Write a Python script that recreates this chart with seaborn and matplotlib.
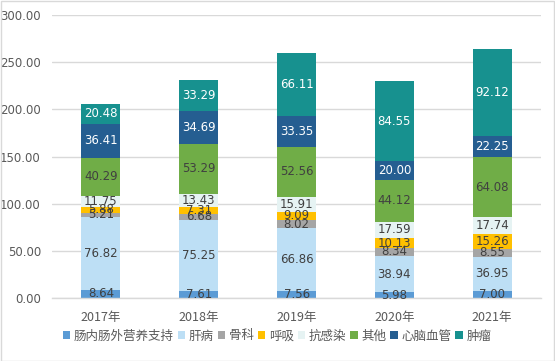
import matplotlib
matplotlib.use("Agg")
import matplotlib.pyplot as plt
import seaborn as sns
import numpy as np
import pandas as pd
from matplotlib.patches import Rectangle

years = ["2017年", "2018年", "2019年", "2020年", "2021年"]
series_names = ["肠内肠外营养支持", "肝病", "骨科", "呼吸", "抗感染", "其他", "心脑血管", "肿瘤"]
enteral = [8.64, 7.61, 7.56, 5.98, 7.00]
liver = [76.82, 75.25, 66.86, 38.94, 36.95]
ortho = [5.21, 6.68, 8.02, 8.34, 8.55]
resp = [5.88, 7.31, 9.09, 10.13, 15.26]
anti_inf = [11.75, 13.43, 15.91, 17.59, 17.74]
other = [40.29, 53.29, 52.56, 44.12, 64.08]
cardio = [36.41, 34.69, 33.35, 20.00, 22.25]
tumor = [20.48, 33.29, 66.11, 84.55, 92.12]
series_values = [enteral, liver, ortho, resp, anti_inf, other, cardio, tumor]
y_ticks = [0, 50, 100, 150, 200, 250, 300]

colors = ["#5B9BD5", "#BDDFF5", "#A5A5A5", "#FFC000", "#E6F3F3", "#70AD47", "#255E91", "#17918F"]
label_colors = ["#404040"] * 6 + ["white", "white"]

sns.set_theme(style="white")
plt.rcParams['font.family'] = ['Noto Sans CJK SC', 'DejaVu Sans']

fig = plt.figure(figsize=(5.55, 3.61), dpi=100)
ax = fig.add_axes([0.0937, 0.1745, 0.8813, 0.7835])

bottom = np.zeros(len(years))
for name, vals, col, lc in zip(series_names, series_values, colors, label_colors):
    df = pd.DataFrame({"year": years, "value": vals})
    sns.barplot(data=df, x="year", y="value", bottom=bottom, color=col, width=0.4,
                ax=ax, label=name, saturation=1, linewidth=0)
    cont = ax.containers[-1]
    ax.bar_label(cont, labels=[f"{v:.2f}" for v in vals], label_type="center",
                 fontsize=8.5, color=lc, family=['DejaVu Sans'])
    bottom = bottom + np.array(vals)

ax.set_ylim(0, 300)
ax.set_xlim(-0.5, 4.5)
ax.set_yticks(y_ticks)
ax.set_yticklabels([f"{v:.2f}" for v in y_ticks], fontsize=8.5, color="#595959", family=['DejaVu Sans'])
ax.tick_params(axis="x", labelsize=9, colors="#595959", length=0, pad=9)
ax.tick_params(axis="y", length=0, pad=8)
ax.set_xlabel("")
ax.set_ylabel("")
ax.yaxis.grid(True, color="#D9D9D9", linewidth=1)
ax.set_axisbelow(True)
for s in ["left", "right", "top"]:
    ax.spines[s].set_visible(False)
ax.spines["bottom"].set_color("#D9D9D9")
ax.spines["bottom"].set_linewidth(1)

handles, labels = ax.get_legend_handles_labels()
ax.legend(handles, labels, loc="center", ncol=8, frameon=False, fontsize=9,
          handlelength=0.6, handleheight=0.6, handletextpad=0.3, columnspacing=0.3,
          labelcolor="#595959", borderpad=0, borderaxespad=0)
leg = ax.get_legend()
leg.set_bbox_to_anchor((277 / 555, 25 / 361), transform=fig.transFigure)

fig.patches.append(Rectangle((0.001, 0.001), 0.997, 0.996, transform=fig.transFigure,
                             fill=False, edgecolor="#D9D9D9", linewidth=1))

fig.savefig("out.png", dpi=100)
